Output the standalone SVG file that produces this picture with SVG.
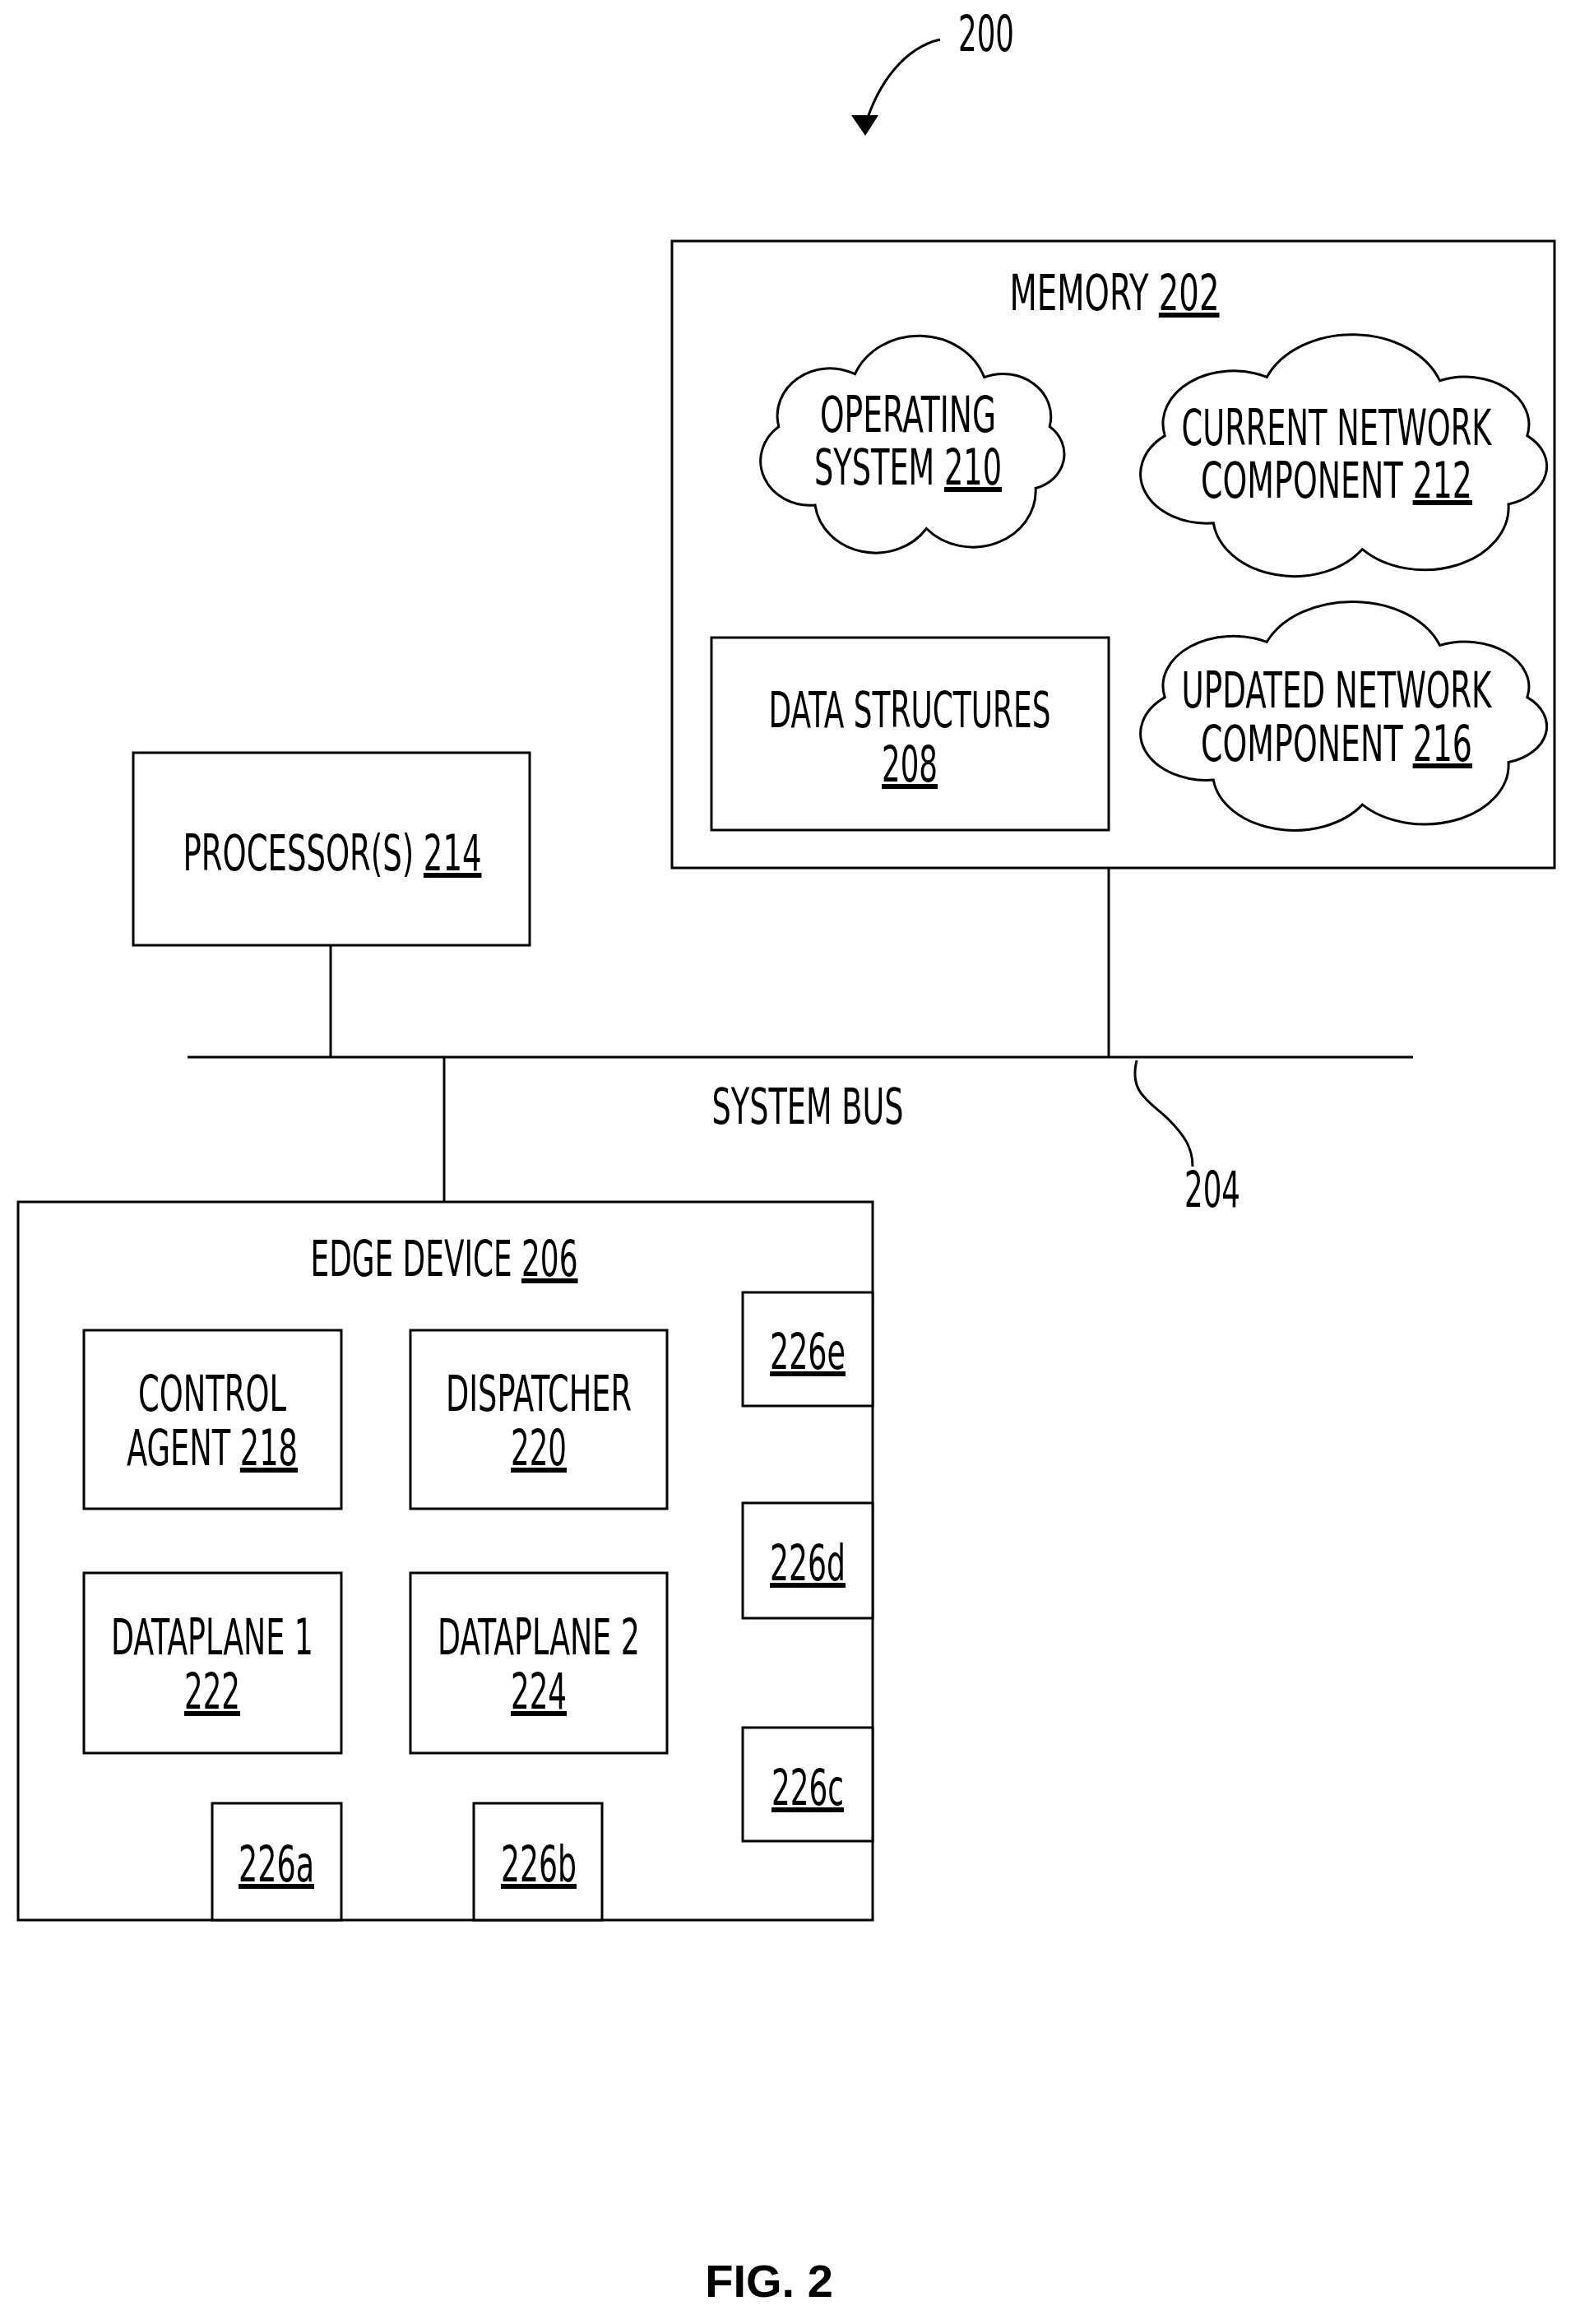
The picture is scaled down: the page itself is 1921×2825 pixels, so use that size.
<svg xmlns="http://www.w3.org/2000/svg" width="1921" height="2825" viewBox="0 0 1921 2825">
<style>
.b{fill:#fff;stroke:#000;stroke-width:3}
.l{fill:none;stroke:#000;stroke-width:3}
text{font-family:"DejaVu Sans Condensed","DejaVu Sans","Liberation Sans",sans-serif;font-size:60px;fill:#000;text-anchor:middle}
.u{text-decoration:underline}
</style>
<defs>
<symbol id="cloud" viewBox="4 -8 186 147" preserveAspectRatio="none" style="overflow:visible">
<path d="M17.9,55.8 A32,32 0 0 1 64.1,20.2 A42,42 0 0 1 142.5,22.4 A29,29 0 0 1 182.1,55.8 A24,24 0 0 1 173.6,97.5 A38,38 0 0 1 107.4,124.8 A37,37 0 0 1 39.9,108.9 A30,30 0 0 1 17.9,55.8 Z" fill="#fff" stroke="#000" stroke-width="3" vector-effect="non-scaling-stroke"/>
</symbol>
</defs>
<g id="connectors">
<line class="l" x1="228" y1="1285" x2="1718" y2="1285"/>
<line class="l" x1="402" y1="1149" x2="402" y2="1285"/>
<line class="l" x1="1348" y1="1055" x2="1348" y2="1285"/>
<line class="l" x1="540" y1="1285" x2="540" y2="1461"/>
<path class="l" d="M1382,1289 C1372,1330 1400,1340 1420,1360 C1440,1380 1450,1395 1450,1418"/>
<path class="l" d="M1143,48 C1100,58 1068,100 1052,152"/>
<path d="M1035,140 L1052,165 L1068,140 Z" fill="#000"/>
</g>
<g id="label200"><text x="1199" y="62" textLength="68" lengthAdjust="spacingAndGlyphs">200</text></g>
<g id="label204"><text x="1474" y="1467" textLength="68" lengthAdjust="spacingAndGlyphs">204</text></g>
<g id="memory">
<rect class="b" x="817" y="293" width="1073" height="762"/>
<text x="1355" y="377" textLength="255" lengthAdjust="spacingAndGlyphs">MEMORY <tspan class="u">202</tspan></text>
</g>
<g id="os">
<use href="#cloud" x="919" y="404" width="373" height="264"/>
<text x="1104" y="525" textLength="214" lengthAdjust="spacingAndGlyphs">OPERATING</text>
<text x="1104" y="589" textLength="228" lengthAdjust="spacingAndGlyphs">SYSTEM <tspan class="u">210</tspan></text>
</g>
<g id="current">
<use href="#cloud" x="1379" y="402" width="499" height="294"/>
<text x="1625" y="541" textLength="377" lengthAdjust="spacingAndGlyphs">CURRENT NETWORK</text>
<text x="1625" y="605" textLength="330" lengthAdjust="spacingAndGlyphs">COMPONENT <tspan class="u">212</tspan></text>
</g>
<g id="updated">
<use href="#cloud" x="1379" y="727" width="499" height="278"/>
<text x="1625" y="860" textLength="377" lengthAdjust="spacingAndGlyphs">UPDATED NETWORK</text>
<text x="1625" y="925" textLength="330" lengthAdjust="spacingAndGlyphs">COMPONENT <tspan class="u">216</tspan></text>
</g>
<g id="datastructures">
<rect class="b" x="865" y="775" width="483" height="234"/>
<text x="1106" y="884" textLength="343" lengthAdjust="spacingAndGlyphs">DATA STRUCTURES</text>
<text x="1106" y="950" class="u" textLength="68" lengthAdjust="spacingAndGlyphs">208</text>
</g>
<g id="processor">
<rect class="b" x="162" y="915" width="482" height="234"/>
<text x="404" y="1058" textLength="363" lengthAdjust="spacingAndGlyphs">PROCESSOR(S) <tspan class="u">214</tspan></text>
</g>
<g id="sysbus"><text x="982" y="1366" textLength="233" lengthAdjust="spacingAndGlyphs">SYSTEM BUS</text></g>
<g id="edge">
<rect class="b" x="22" y="1461" width="1039" height="873"/>
<text x="540" y="1551" textLength="325" lengthAdjust="spacingAndGlyphs">EDGE DEVICE <tspan class="u">206</tspan></text>
</g>
<g id="control">
<rect class="b" x="102" y="1617" width="313" height="217"/>
<text x="258" y="1715" textLength="180" lengthAdjust="spacingAndGlyphs">CONTROL</text>
<text x="258" y="1781" textLength="208" lengthAdjust="spacingAndGlyphs">AGENT <tspan class="u">218</tspan></text>
</g>
<g id="dispatcher">
<rect class="b" x="499" y="1617" width="312" height="217"/>
<text x="655" y="1715" textLength="226" lengthAdjust="spacingAndGlyphs">DISPATCHER</text>
<text x="655" y="1781" class="u" textLength="68" lengthAdjust="spacingAndGlyphs">220</text>
</g>
<g id="dp1">
<rect class="b" x="102" y="1912" width="313" height="219"/>
<text x="258" y="2011" textLength="246" lengthAdjust="spacingAndGlyphs">DATAPLANE 1</text>
<text x="258" y="2077" class="u" textLength="68" lengthAdjust="spacingAndGlyphs">222</text>
</g>
<g id="dp2">
<rect class="b" x="499" y="1912" width="312" height="219"/>
<text x="655" y="2011" textLength="246" lengthAdjust="spacingAndGlyphs">DATAPLANE 2</text>
<text x="655" y="2077" class="u" textLength="68" lengthAdjust="spacingAndGlyphs">224</text>
</g>
<g id="p226e"><rect class="b" x="903" y="1571" width="158" height="138"/><text x="982" y="1664" class="u" textLength="92" lengthAdjust="spacingAndGlyphs">226e</text></g>
<g id="p226d"><rect class="b" x="903" y="1827" width="158" height="140"/><text x="982" y="1921" class="u" textLength="92" lengthAdjust="spacingAndGlyphs">226d</text></g>
<g id="p226c"><rect class="b" x="903" y="2100" width="158" height="138"/><text x="982" y="2194" class="u" textLength="88" lengthAdjust="spacingAndGlyphs">226c</text></g>
<g id="p226a"><rect class="b" x="258" y="2192" width="157" height="142"/><text x="336" y="2287" class="u" textLength="92" lengthAdjust="spacingAndGlyphs">226a</text></g>
<g id="p226b"><rect class="b" x="576" y="2192" width="156" height="142"/><text x="655" y="2287" class="u" textLength="92" lengthAdjust="spacingAndGlyphs">226b</text></g>
<g id="fig"><text x="935" y="2792" style="font-family:'Liberation Sans',sans-serif;font-weight:bold;font-size:56px">FIG. 2</text></g>
</svg>
